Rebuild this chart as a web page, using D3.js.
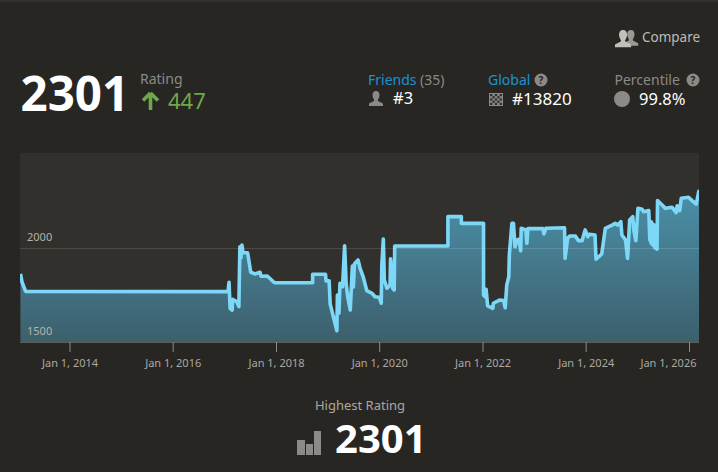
<!DOCTYPE html>
<html><head><meta charset="utf-8">
<script src="https://cdnjs.cloudflare.com/ajax/libs/d3/7.8.5/d3.min.js"></script>
<style>
html,body{margin:0;padding:0;background:#282622;overflow:hidden}
svg{display:block}
text{font-family:"Noto Sans",sans-serif}
</style></head><body>
<svg id="c" width="718" height="472"></svg>
<script>
const decimalYears=[2013.05,2013.08,2013.15,2017.07,2017.09,2017.11,2017.15,2017.16,2017.24,2017.28,2017.30,2017.32,2017.34,2017.36,2017.45,2017.51,2017.59,2017.69,2017.71,2017.83,2017.97,2018.71,2018.71,2018.96,2018.97,2019.03,2019.05,2019.18,2019.19,2019.22,2019.24,2019.29,2019.33,2019.36,2019.39,2019.44,2019.48,2019.50,2019.52,2019.59,2019.63,2019.69,2019.76,2019.86,2019.92,2020.00,2020.04,2020.05,2020.08,2020.10,2020.15,2020.21,2020.22,2020.26,2020.29,2020.30,2021.33,2021.33,2021.59,2021.59,2022.02,2022.02,2022.05,2022.07,2022.10,2022.20,2022.21,2022.33,2022.41,2022.44,2022.47,2022.51,2022.52,2022.57,2022.60,2022.63,2022.67,2022.71,2022.74,2022.75,2022.84,2022.86,2022.88,2023.17,2023.19,2023.23,2023.59,2023.60,2023.65,2023.69,2023.80,2023.86,2023.93,2023.99,2024.04,2024.07,2024.18,2024.20,2024.31,2024.38,2024.51,2024.57,2024.62,2024.68,2024.70,2024.77,2024.81,2024.85,2024.91,2024.93,2024.97,2025.01,2025.09,2025.12,2025.22,2025.24,2025.25,2025.26,2025.27,2025.28,2025.29,2025.30,2025.31,2025.32,2025.33,2025.34,2025.36,2025.38,2025.39,2025.48,2025.54,2025.67,2025.75,2025.77,2025.82,2025.85,2025.99,2026.06,2026.14,2026.19,2026.21];
const ratings=[1862,1819,1769,1768,1818,1679,1670,1727,1714,1688,2007,1947,2016,1975,1975,1871,1862,1871,1850,1851,1815,1815,1860,1860,1825,1825,1702,1560,1750,1653,1812,1794,2012,1812,1741,1670,1904,1793,1915,1936,1892,1847,1773,1759,1741,1738,1706,1901,2048,1830,1786,1803,1942,1786,1777,2011,2011,2167,2167,2131,2131,1750,1741,1780,1692,1679,1706,1723,1720,1682,1803,1847,1963,2131,2131,2007,2043,2046,1986,2105,2096,2025,2103,2103,2075,2105,2108,1945,2052,2064,2064,2039,2039,2096,2060,2073,2069,1940,1968,2105,2122,2131,2122,2140,2069,2043,1945,2149,2167,2096,2039,2211,2206,2193,2199,2043,2140,2030,2140,2020,2130,2016,2125,2010,2122,2000,2110,1993,2252,2229,2211,2217,2188,2224,2199,2265,2270,2252,2234,2301,2301];
const yTicks=[1500,2000];
const xTickYears=[2014,2016,2018,2020,2022,2024,2026];

const toDate=y=>{const f=Math.floor(y);const a=+new Date(Date.UTC(f,0,1)),b=+new Date(Date.UTC(f+1,0,1));return new Date(a+(y-f)*(b-a));};
const data=decimalYears.map((y,i)=>({d:toDate(y),v:ratings[i]}));
const svg=d3.select("#c");
const L=20,R=699,T=153,B=342;
const x=d3.scaleUtc().domain([toDate(2014),toDate(2026)]).range([69.5,689]);
const y=d3.scaleLinear().domain([1500,2000]).range([B,248]);

svg.append("rect").attr("width",718).attr("height",2).attr("fill","#33312d");
svg.append("rect").attr("x",L).attr("y",T).attr("width",R-L).attr("height",B-T).attr("fill","#32302c");

const defs=svg.append("defs");
const g=defs.append("linearGradient").attr("id","fill").attr("x1",0).attr("x2",0).attr("y1",0).attr("y2",1).attr("gradientUnits","objectBoundingBox");
g.append("stop").attr("offset","0").attr("stop-color","#4a90a9");
g.append("stop").attr("offset","1").attr("stop-color","#3d5f6c");
defs.append("clipPath").attr("id","clip").append("rect").attr("x",L).attr("y",T).attr("width",R-L).attr("height",B-T);

const plot=svg.append("g").attr("clip-path","url(#clip)");
plot.append("path").datum(data).attr("fill","url(#fill)")
 .attr("d",d3.area().x(d=>x(d.d)).y0(B).y1(d=>y(d.v)));
const yAxis=d3.axisRight(y).tickValues(yTicks).tickSize(R-L).tickFormat(d3.format("d"));
const ya=svg.append("g").attr("transform",`translate(${L},0)`).call(yAxis);
ya.select(".domain").remove();
ya.selectAll("line").attr("stroke","#ffffff").attr("stroke-opacity",0.13);
ya.selectAll("text").attr("x",7).attr("dy",-8).attr("text-anchor","start").attr("fill","#b5b3ae").style("font-size","11px").style("font-family",'"Noto Sans",sans-serif');
plot.append("path").datum(data).attr("fill","none").attr("stroke","#7dd8f8").attr("stroke-width",3.6).attr("stroke-linejoin","round")
 .attr("d",d3.line().x(d=>x(d.d)).y(d=>y(d.v)));

const xAxis=d3.axisBottom(x).tickValues(xTickYears.map(toDate)).tickSize(10).tickPadding(7).tickFormat(d3.utcFormat("%b %-d, %Y"));
const xa=svg.append("g").attr("transform",`translate(0,${B})`).call(xAxis);
xa.select(".domain").attr("d",`M${L},0.5H${R}`).attr("stroke","#5e5c58");
xa.selectAll("line").attr("stroke","#8e8c88");
xa.selectAll("text").attr("fill","#aaa8a3").style("font-size","11px").style("font-family",'"Noto Sans",sans-serif');
xa.selectAll(".tick:last-of-type text").attr("text-anchor","end").attr("x",7);

const t=(s,px,py,size,fill,w,anchor)=>svg.append("text").attr("x",px).attr("y",py).attr("font-size",size).attr("fill",fill).attr("font-weight",w||400).attr("text-anchor",anchor||"start").text(s);
t("2301",20.5,111,47.5,"#ffffff",700);
t("Rating",140,84,14,"#8c8a86");
t("447",168,109,22,"#6ea84a");
svg.append("path").attr("d","M150.5,93L143,100.500M150.500,93L158,100.500M150.500,93V110").attr("fill","none").attr("stroke","#6ea84a").attr("stroke-width",3.6);

t("Compare",642,42,13.5,"#bdbbb6");
const person=(px,py,s,c)=>svg.append("path").attr("transform",`translate(${px},${py}) scale(${s})`).attr("fill",c)
 .attr("d","M7,0C9.500,0 10.500,2 10.500,4C10.500,6 9.500,8 8.800,9L9,10L14,12.500V15H0V12.500L5,10L5.200,9C4.500,8 3.500,6 3.500,4C3.500,2 4.500,0 7,0Z");
person(623.500,30,1.05,"#9a9894"); person(615,30,1.15,"#c2c0bb");

t("Friends",368,85,14,"#1b93d2");
t("(35)",420,85,14,"#8c8a86");
person(369,91,1,"#8c8a86");
t("#3",393,104,16.5,"#ffffff");

t("Global",488,85,14,"#1b93d2");
const help=(cx,cy)=>{svg.append("circle").attr("cx",cx).attr("cy",cy).attr("r",6.5).attr("fill","#8c8a86");
 svg.append("text").attr("x",cx).attr("y",cy+3.600).attr("text-anchor","middle").attr("font-size",10).attr("font-weight",700).attr("fill","#282622").text("?");};
help(541,80); help(693,80);
const cells=d3.range(5);
svg.append("rect").attr("x",489).attr("y",93).attr("width",14).attr("height",13).attr("fill","#8c8a86");
cells.forEach(i=>cells.forEach(j=>{ if((i+j)%2===0) svg.append("rect").attr("x",490+i*2.4).attr("y",94+j*2.2).attr("width",2.4).attr("height",2.2).attr("fill","#33312d");}));
t("#13820",512,105,17,"#ffffff");

t("Percentile",614.500,85,14,"#8c8a86");
svg.append("circle").attr("cx",622).attr("cy",99).attr("r",8).attr("fill","#8c8a86");
t("99.8%",639,105,16.500,"#ffffff");

t("Highest Rating",360,410,13,"#aaa8a3",400,"middle");
t("2301",335,453,40,"#ffffff",700);
const bars=[[297,8,15],[306,7,11],[314,7,24]];
bars.forEach(b=>svg.append("rect").attr("x",b[0]).attr("y",455-b[2]).attr("width",b[1]).attr("height",b[2]).attr("fill","#8c8a86"));
</script></body></html>
